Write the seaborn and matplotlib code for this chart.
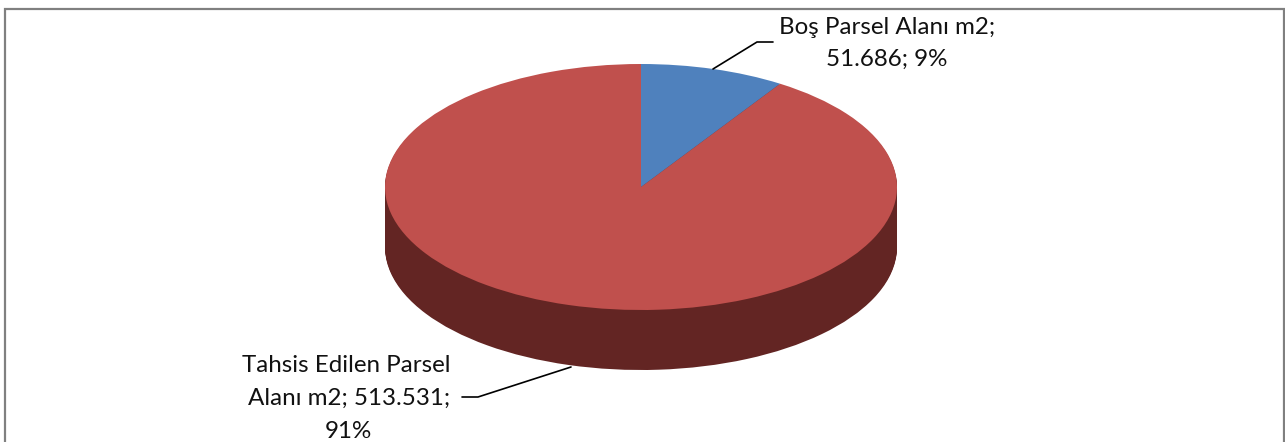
import matplotlib
matplotlib.use("Agg")
import matplotlib.pyplot as plt
import seaborn as sns

# data
labels = ["Boş Parsel Alanı m2", "Tahsis Edilen Parsel Alanı m2"]
areas = [51686, 513531]
top_colors = ["#4F81BD", "#C0504D"]
side_colors = ["#2A4A70", "#632523"]

sns.set_theme(style="white")
plt.rcParams["font.family"] = ["Lato", "DejaVu Sans"]

W, H = 1285, 442
fig = plt.figure(figsize=(W / 100, H / 100), dpi=100, facecolor="white")
# axes in pixel units, y going down, so things line up with the picture
ax = fig.add_axes([0, 0, 1, 1])
ax.set_xlim(0, W)
ax.set_ylim(H, 0)
ax.axis("off")

cx, cy = 641, 187
rx, ry = 256, 123
depth = 60


def draw_pie(x0, y0, colors, z):
    # pie drawn in unit circle, then squashed with a transform
    tr = matplotlib.transforms.Affine2D().scale(rx, -ry).translate(x0, y0) + ax.transData
    wedges, _ = ax.pie(areas, colors=colors, startangle=90, counterclock=False,
                       radius=1, frame=False, normalize=True)
    for w in wedges:
        w.set_transform(tr)
        w.set_zorder(z)
        w.set_linewidth(0)
        w.set_clip_on(False)


# side wall, stacked layers from bottom up
for d in range(depth, 0, -1):
    draw_pie(cx, cy + d, side_colors, 2)
draw_pie(cx, cy, top_colors, 3)

ax.set_xlim(0, W)
ax.set_ylim(H, 0)
ax.set_aspect("auto")

# frame
ax.plot([5, 5, 1284, 1284], [H, 9, 9, H], color="#808080", lw=1.6, clip_on=False,
        solid_joinstyle="miter")

# leader lines
ax.plot([713, 757, 773], [69, 42, 42], color="black", lw=1.2, zorder=5)
ax.plot([571, 478, 462], [367, 397, 397], color="black", lw=1.2, zorder=5)

txt = dict(fontsize=17.4, color="#111111", ha="center", va="center", zorder=6)
ax.text(887, 27, "Boş Parsel Alanı m2;", **txt)
ax.text(887, 59, "51.686; 9%", **txt)
ax.text(346, 366, "Tahsis Edilen Parsel", **txt)
ax.text(349, 398, "Alanı m2; 513.531;", **txt)
ax.text(348, 431, "91%", **txt)

fig.savefig("out.png", dpi=100, facecolor="white")
